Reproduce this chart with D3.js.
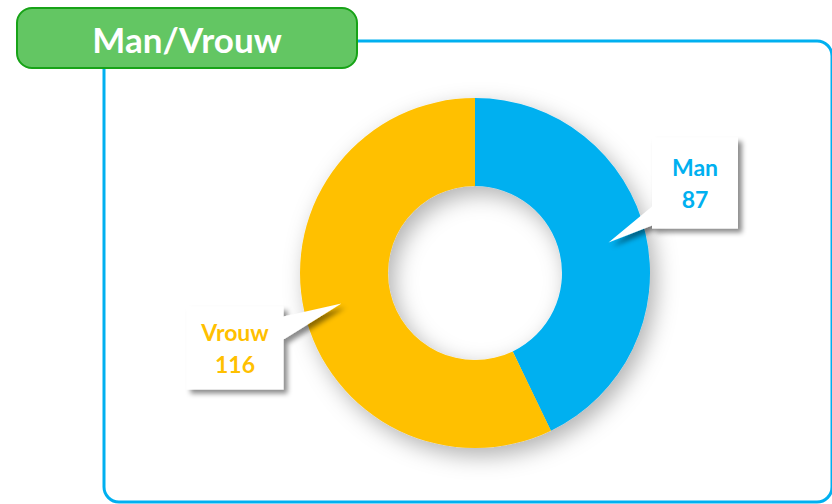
<!DOCTYPE html>
<html>
<head>
<meta charset="utf-8">
<script src="https://cdn.jsdelivr.net/npm/d3@7"></script>
<style>
  html, body { margin: 0; padding: 0; background: #fff; }
  svg { display: block; font-family: Lato, "Open Sans", sans-serif; }
</style>
</head>
<body>
<svg id="chart" width="832" height="504"></svg>
<script>
// data
var title = "Man/Vrouw";
var categories = ["Man", "Vrouw"];
var values = [87, 116];
var colors = ["#00B0F0", "#FFC000"];

// layout
var width = 832, height = 504;
var cx = 475, cy = 273;
var outerR = 175, innerR = 87, tipR = 137;
// label box placement relative to the donut centre
var labelBoxes = [
  {dx: 220, dy: -90, w: 86, h: 91, side: "left", b0: -22, b1: 0},
  {dx: -240, dy: 75, w: 97, h: 83, side: "right", b0: -32, b1: -8}
];

var svg = d3.select("#chart");
var defs = svg.append("defs");

var f1 = defs.append("filter").attr("id", "donutShadow")
  .attr("x", "-30%").attr("y", "-30%").attr("width", "160%").attr("height", "160%");
f1.append("feDropShadow").attr("dx", 6).attr("dy", 8).attr("stdDeviation", 11)
  .attr("flood-color", "#000").attr("flood-opacity", 0.3);

var f2 = defs.append("filter").attr("id", "boxShadow")
  .attr("x", "-30%").attr("y", "-30%").attr("width", "160%").attr("height", "160%");
f2.append("feDropShadow").attr("dx", 4).attr("dy", 4).attr("stdDeviation", 2.5)
  .attr("flood-color", "#000").attr("flood-opacity", 0.45);

// blue frame
svg.append("rect")
  .attr("x", 104).attr("y", 41).attr("width", 728).attr("height", 461)
  .attr("rx", 15).attr("ry", 15)
  .attr("fill", "none").attr("stroke", "#00B0F0").attr("stroke-width", 3);

// title box
svg.append("rect")
  .attr("x", 17).attr("y", 8).attr("width", 340).attr("height", 60)
  .attr("rx", 15).attr("ry", 15)
  .attr("fill", "#63C663").attr("stroke", "#17A317").attr("stroke-width", 2);
svg.append("text")
  .attr("x", 187).attr("y", 53)
  .attr("text-anchor", "middle")
  .attr("fill", "#fff").attr("font-weight", "bold").attr("font-size", 35)
  .text(title);

// donut
var pie = d3.pie().sort(null).value(function(d) { return d; });
var arcs = pie(values);
var arc = d3.arc().innerRadius(innerR).outerRadius(outerR);

var g = svg.append("g").attr("transform", "translate(" + cx + "," + cy + ")");
g.append("g").attr("filter", "url(#donutShadow)")
  .selectAll("path").data(arcs).enter().append("path")
  .attr("d", arc)
  .attr("fill", function(d, i) { return colors[i]; });

// callout labels
arcs.forEach(function(d, i) {
  var a = (d.startAngle + d.endAngle) / 2;
  var tx = Math.sin(a) * tipR, ty = -Math.cos(a) * tipR;
  var lb = labelBoxes[i];
  var x0 = lb.dx - lb.w / 2, x1 = lb.dx + lb.w / 2;
  var y0 = lb.dy - lb.h / 2, y1 = lb.dy + lb.h / 2;
  var p = d3.path();
  if (lb.side === "left") {
    p.moveTo(x0, y0); p.lineTo(x1, y0); p.lineTo(x1, y1); p.lineTo(x0, y1);
    p.lineTo(x0, y1 + lb.b1 - 3); p.lineTo(tx, ty); p.lineTo(x0, y1 + lb.b0);
  } else {
    p.moveTo(x0, y0); p.lineTo(x1, y0); p.lineTo(x1, y0 + 10);
    p.lineTo(tx, ty); p.lineTo(x1, y0 + 33); p.lineTo(x1, y1); p.lineTo(x0, y1);
  }
  p.closePath();
  g.append("path").attr("d", p.toString())
    .attr("fill", "#fff").attr("filter", "url(#boxShadow)");

  var t = g.append("text")
    .attr("text-anchor", "middle")
    .attr("fill", colors[i]).attr("font-weight", "bold").attr("font-size", 23);
  t.append("tspan").attr("x", lb.dx).attr("y", lb.dy - 7).text(categories[i]);
  t.append("tspan").attr("x", lb.dx).attr("y", lb.dy + 25).text(values[i]);
});
</script>
</body>
</html>
